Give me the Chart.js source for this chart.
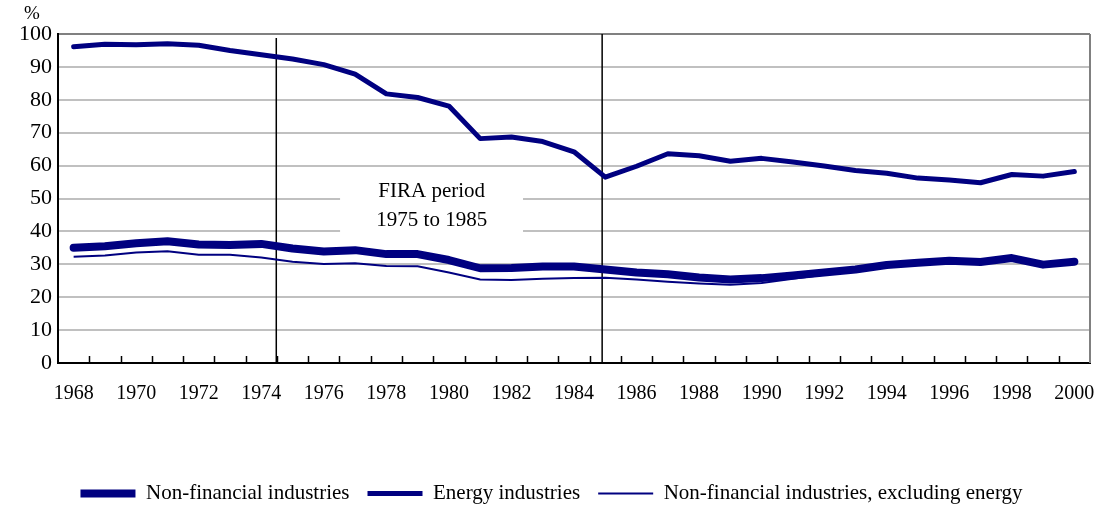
<!DOCTYPE html>
<html>
<head>
<meta charset="utf-8">
<script src="https://cdn.jsdelivr.net/npm/chart.js@4/dist/chart.umd.min.js"></script>
<style>
  body { margin: 0; background: #fff; }
  #wrap { width: 1100px; height: 506px; }
</style>
</head>
<body>
<div id="wrap"><canvas id="myChart" width="1100" height="506"></canvas></div>
<script>
const years = [];
for (let y = 1968; y <= 2000; y++) years.push(String(y));

const nonFinancial = [35.0, 35.5, 36.4, 37.0, 36.0, 35.9, 36.2, 34.8, 33.9, 34.3,
  33.1, 33.1, 31.3, 28.8, 28.9, 29.3, 29.3, 28.4, 27.5, 27.0,
  26.0, 25.4, 25.8, 26.6, 27.5, 28.4, 29.8, 30.5, 31.1, 30.7,
  31.9, 29.9, 30.8];
const energy = [96.1, 96.9, 96.7, 97.0, 96.6, 95.0, 93.7, 92.4, 90.7, 87.8,
  81.8, 80.7, 78.1, 68.2, 68.7, 67.3, 64.2, 56.5, 59.8, 63.6,
  63.0, 61.3, 62.2, 61.1, 59.9, 58.5, 57.7, 56.2, 55.6, 54.8,
  57.3, 56.8, 58.2];
const nonFinExEnergy = [32.3, 32.7, 33.6, 34.0, 32.9, 32.9, 32.1, 30.8, 30.1, 30.3,
  29.5, 29.4, 27.5, 25.4, 25.2, 25.6, 25.8, 25.9, 25.4, 24.7,
  24.2, 23.8, 24.3, 25.6, 26.8, 27.8, 29.3, 30.0, 30.6, 30.2,
  31.4, 29.4, 30.3];

// FIRA period markers (position in category index units)
const firaLines = [6.48, 16.9];
const firaText = ["FIRA period", "1975 to 1985"];

const navy = "#000080";
const serif = "'Liberation Serif', 'Times New Roman', serif";

// fractional category index -> pixel
function xAt(scale, idx) {
  const x0 = scale.getPixelForValue(0);
  const x1 = scale.getPixelForValue(1);
  return x0 + idx * (x1 - x0);
}

const firaPlugin = {
  id: "fira",
  beforeDatasetsDraw(chart) {
    const { ctx, chartArea, scales: { x, y } } = chart;
    ctx.save();
    // white box behind the label
    const left = xAt(x, 8.52), right = xAt(x, 14.37);
    const top = y.getPixelForValue(58.3), bottom = y.getPixelForValue(33.5);
    ctx.fillStyle = "#fff";
    ctx.fillRect(left, top, right - left, bottom - top);
    ctx.fillStyle = "#000";
    ctx.font = "21px " + serif;
    ctx.textAlign = "center";
    ctx.textBaseline = "middle";
    const cx = xAt(x, 11.45);
    ctx.fillText(firaText[0], cx, y.getPixelForValue(52.1));
    ctx.fillText(firaText[1], cx, y.getPixelForValue(43.3));

    // right border
    ctx.strokeStyle = "#808080";
    ctx.lineWidth = 2;
    ctx.beginPath();
    ctx.moveTo(chartArea.right, chartArea.top);
    ctx.lineTo(chartArea.right, chartArea.bottom);
    ctx.stroke();

    // tick marks pointing into the plot
    ctx.strokeStyle = "#000";
    ctx.lineWidth = 1.5;
    ctx.beginPath();
    for (let i = 1; i < years.length; i++) {
      const px = Math.round(xAt(x, i - 0.5)) + 0.5;
      ctx.moveTo(px, chartArea.bottom);
      ctx.lineTo(px, chartArea.bottom - 7);
    }
    ctx.stroke();

    // period lines
    ctx.lineWidth = 1.5;
    ctx.beginPath();
    firaLines.forEach((idx, k) => {
      const px = xAt(x, idx);
      ctx.moveTo(px, chartArea.top + (k === 0 ? 4 : 0));
      ctx.lineTo(px, chartArea.bottom);
    });
    ctx.stroke();

    // % unit label
    ctx.font = "19px " + serif;
    ctx.textAlign = "center";
    ctx.fillText("%", 32, 14);
    ctx.restore();
  }
};

new Chart(document.getElementById("myChart"), {
  type: "line",
  data: {
    labels: years,
    datasets: [
      {
        label: "Non-financial industries",
        data: nonFinancial,
        borderColor: navy,
        backgroundColor: navy,
        borderWidth: 8,
        borderCapStyle: "round",
        borderJoinStyle: "round"
      },
      {
        label: "Energy industries",
        data: energy,
        borderColor: navy,
        backgroundColor: navy,
        borderWidth: 5,
        borderCapStyle: "round",
        borderJoinStyle: "round"
      },
      {
        label: "Non-financial industries, excluding energy",
        data: nonFinExEnergy,
        borderColor: navy,
        backgroundColor: navy,
        borderWidth: 2
      }
    ]
  },
  options: {
    responsive: false,
    animation: false,
    devicePixelRatio: 1,
    elements: { point: { radius: 0 }, line: { tension: 0 } },
    layout: { padding: { top: 34, left: 13, right: 10, bottom: -8 } },
    plugins: {
      tooltip: { enabled: false },
      legend: {
        position: "bottom",
        labels: {
          usePointStyle: true,
          pointStyle: "line",
          pointStyleWidth: 55,
          padding: 18,
          color: "#000",
          font: { family: serif, size: 21 }
        }
      }
    },
    scales: {
      x: {
        offset: true,
        grid: { display: false, offset: true, drawTicks: false },
        border: { color: "#000", width: 2 },
        ticks: {
          autoSkip: false,
          maxRotation: 0,
          padding: 19,
          color: "#000",
          font: { family: serif, size: 20 },
          callback: (v, i) => (i % 2 === 0 ? years[i] : "")
        },
        afterFit: s => {
          s.height += 40;
          s.paddingLeft = 0;
          s.paddingRight = 0;
        }
      },
      y: {
        min: 0,
        max: 100,
        ticks: {
          stepSize: 10,
          padding: 6,
          color: "#000",
          font: { family: serif, size: 22 }
        },
        grid: {
          drawTicks: false,
          lineWidth: 2,
          color: c => (c.tick.value === 100 ? "#808080" : c.tick.value === 0 ? "rgba(0,0,0,0)" : "#c0c0c0")
        },
        border: { color: "#000", width: 2 }
      }
    }
  },
  plugins: [firaPlugin]
});
</script>
</body>
</html>
